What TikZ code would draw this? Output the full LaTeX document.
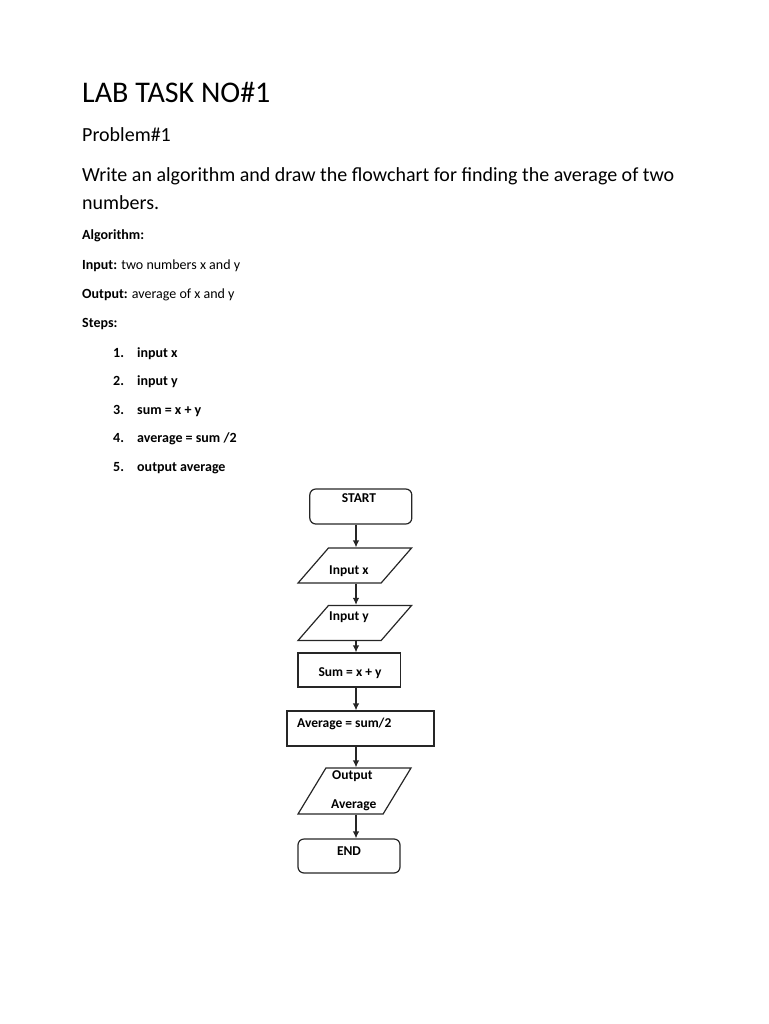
\documentclass[tikz,border=0pt]{standalone}
\usepackage{fontspec}
\setmainfont{Carlito}
\usetikzlibrary{shapes.geometric,arrows.meta}

\begin{document}
\begin{tikzpicture}[x=1pt,y=1pt]
\tikzstyle{every node}+=[inner sep=0pt]
\tikzstyle{txt}=[anchor=base west, font=\fontsize{14}{17}\selectfont]
\tikzstyle{boxtxt}=[anchor=base west, font=\bfseries\fontsize{13.5}{16}\selectfont]
\tikzstyle{term}=[draw=black!85, line width=1.2pt, rounded corners=6pt]
\tikzstyle{proc}=[draw=black!85, line width=1.2pt]
\tikzstyle{io}=[draw=black!85, line width=1.2pt, trapezium, trapezium stretches=true, inner sep=2pt]
\tikzstyle{flowline}=[draw=black!85, line width=1.2pt, -{Latex[length=7pt,width=6.5pt]}]
\useasboundingbox (0,0) rectangle (768,-1024);
% heading
\node [anchor=base west, font=\fontsize{30}{36}\selectfont] (title) at (82,-103) {LAB TASK NO\#1};
\node [anchor=base west, font=\fontsize{20}{24}\selectfont] (problem) at (82,-142) {Problem\#1};
\node [anchor=base west, font=\fontsize{20}{24}\selectfont] (task1) at (82,-182) {Write an algorithm and draw the flowchart for finding the average of two};
\node [anchor=base west, font=\fontsize{20}{24}\selectfont] (task2) at (82,-210) {numbers.};
% algorithm
\node [txt] (algo) at (82,-240) {\textbf{Algorithm:}};
\node [txt] (input) at (82,-269) {\textbf{Input:} two numbers x and y};
\node [txt] (output) at (82,-298) {\textbf{Output:} average of x and y};
\node [txt] (steps) at (82,-327) {\textbf{Steps:}};
\foreach \n/\s [count=\i] in {1/input x, 2/input y, 3/sum = x + y, 4/{average = sum /2}, 5/output average} {
  \node [txt, font=\bfseries\fontsize{14}{17}\selectfont] (num\i) at (113,-357-28.5*\i+28.5) {\n.};
  \node [txt, font=\bfseries\fontsize{14}{17}\selectfont] (step\i) at (137,-357-28.5*\i+28.5) {\s};
}
% flowchart
\coordinate (axis) at (356,0);
\node [term, minimum width=102pt, minimum height=35pt] (start) at (360.8,-506.5) {};
\node [io, trapezium left angle=60, trapezium right angle=120, minimum width=113.5pt, minimum height=35pt] (inx) at (354.8,-565.5) {};
\node [io, trapezium left angle=60, trapezium right angle=120, minimum width=113.5pt, minimum height=35pt] (iny) at (354.8,-623) {};
\node [proc, minimum width=102.5pt, minimum height=34pt] (sum) at (349.3,-670) {};
\node [proc, minimum width=147pt, minimum height=35pt] (avg) at (360.5,-728.5) {};
\node [io, trapezium left angle=64, trapezium right angle=116, minimum width=113pt, minimum height=46pt] (out) at (354.5,-791) {};
\node [term, minimum width=102pt, minimum height=34pt] (end) at (349,-856) {};
\node [boxtxt, anchor=base] (startlbl) at (359,-502) {START};
\node [boxtxt] (inxlbl) at (329,-574) {Input x};
\node [boxtxt] (inylbl) at (329,-620) {Input y};
\node [boxtxt, anchor=base] (sumlbl) at (350,-676) {Sum = x + y};
\node [boxtxt] (avglbl) at (297,-727) {Average = sum/2};
\node [boxtxt] (outlbl1) at (332,-779) {Output};
\node [boxtxt] (outlbl2) at (331,-808) {Average};
\node [boxtxt, anchor=base] (endlbl) at (349,-855) {END};
\draw [flowline] (axis |- start.south) -- (axis |- inx.north);
\draw [flowline] (axis |- inx.south) -- (axis |- iny.north);
\draw [flowline] (axis |- iny.south) -- (axis |- sum.north);
\draw [flowline] (axis |- sum.south) -- (axis |- avg.north);
\draw [flowline] (axis |- avg.south) -- (axis |- out.north);
\draw [flowline] (axis |- out.south) -- (axis |- end.north);
\end{tikzpicture}
\end{document}
